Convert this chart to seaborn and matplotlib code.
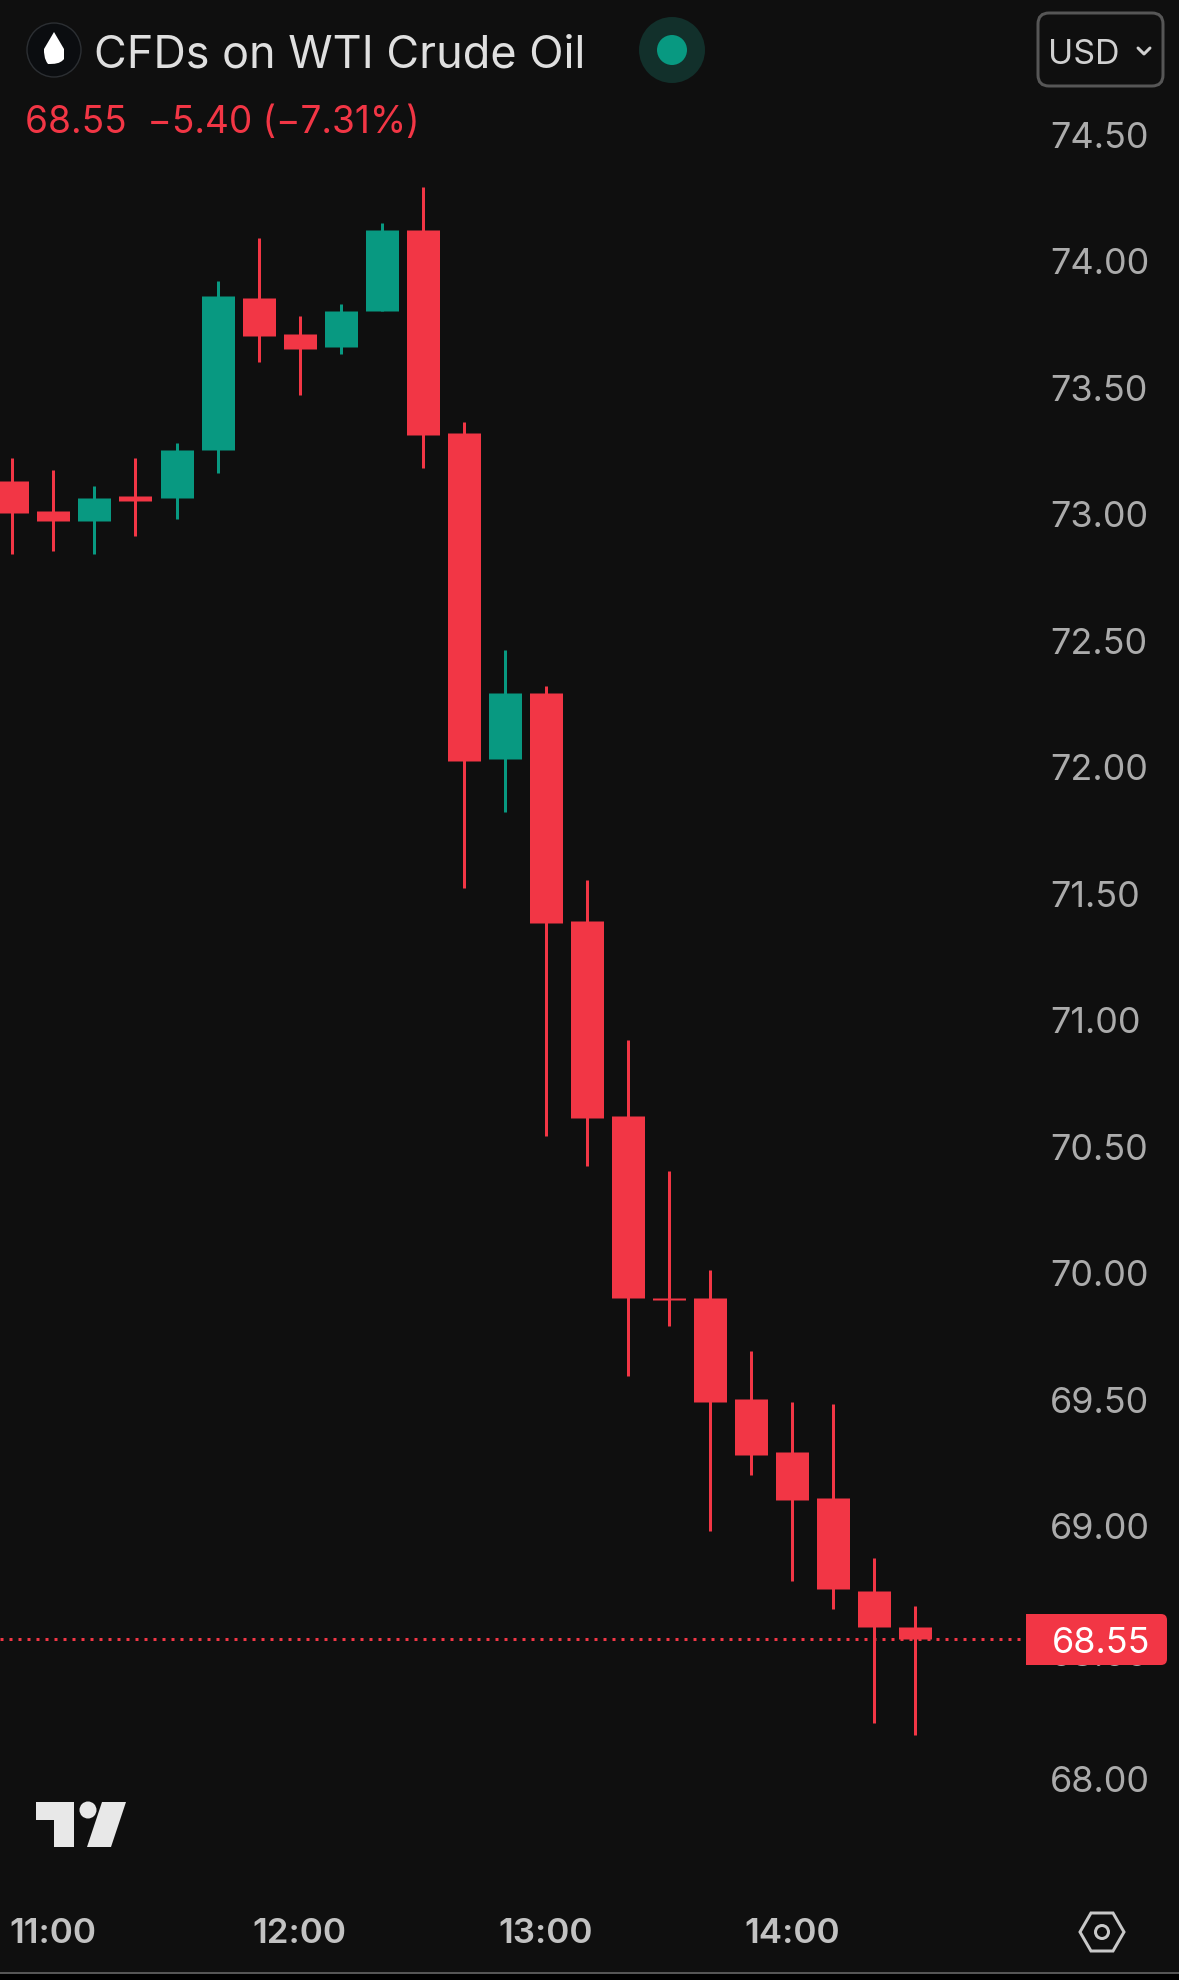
import matplotlib
matplotlib.use("Agg")
import matplotlib.pyplot as plt
from matplotlib.patches import Circle, Ellipse, FancyBboxPatch, Polygon, Rectangle, PathPatch, RegularPolygon
from matplotlib.path import Path
import pandas as pd
import seaborn as sns

# ---- data ----
times = ["10:50", "11:00", "11:10", "11:20", "11:30", "11:40", "11:50", "12:00", "12:10", "12:20", "12:30", "12:40",
         "12:50", "13:00", "13:10", "13:20", "13:30", "13:40", "13:50", "14:00", "14:10", "14:20", "14:30"]
opens = [73.13, 73.01, 72.97, 73.07, 73.06, 73.25, 73.85, 73.71, 73.66, 73.80, 74.12, 73.32,
         72.03, 72.29, 71.39, 70.62, 69.90, 69.90, 69.50, 69.29, 69.11, 68.74, 68.60]
closes = [73.00, 72.97, 73.06, 73.05, 73.25, 73.86, 73.70, 73.65, 73.80, 74.12, 73.31, 72.02,
          72.29, 71.38, 70.61, 69.90, 69.89, 69.49, 69.28, 69.10, 68.75, 68.60, 68.55]
highs = [73.22, 73.17, 73.11, 73.22, 73.28, 73.92, 74.09, 73.78, 73.83, 74.15, 74.29, 73.36,
         72.46, 72.32, 71.55, 70.92, 70.40, 70.01, 69.69, 69.49, 69.48, 68.87, 68.68]
lows = [72.84, 72.85, 72.84, 72.91, 72.98, 73.16, 73.60, 73.47, 73.63, 73.80, 73.18, 71.52,
        71.82, 70.54, 70.42, 69.59, 69.79, 68.98, 69.20, 68.78, 68.67, 68.22, 68.17]
price_ticks = [68.0, 68.5, 69.0, 69.5, 70.0, 70.5, 71.0, 71.5, 72.0, 72.5, 73.0, 73.5, 74.0, 74.5]
hour_ticks = ["11:00", "12:00", "13:00", "14:00"]
last_price = 68.55
title = "CFDs on WTI Crude Oil"
quote = "68.55  \u22125.40 (\u22127.31%)"
currency = "USD"

# ---- style ----
BG, RED, GREEN, GRAY = "#0f0f0f", "#f23645", "#089981", "#ababab"
W, H, DPI = 1179, 1981, 100
PX = 72 / DPI
sns.set_theme(style="dark", rc={"axes.facecolor": BG, "figure.facecolor": BG, "axes.grid": False})
plt.rcParams["font.family"] = ["Inter", "DejaVu Sans"]

rows = []
for i, t in enumerate(times):
    direction = "up" if closes[i] >= opens[i] else "down"
    rows.append(dict(i=i, time=t, dir=direction, low=lows[i], high=highs[i], o=opens[i], c=closes[i]))
df = pd.DataFrame(rows)
wicks = df.melt(id_vars=["i", "dir"], value_vars=["low", "high"], value_name="price")
bodies = df.melt(id_vars=["i", "dir"], value_vars=["o", "c"], value_name="price")
palette = {"up": GREEN, "down": RED}

fig = plt.figure(figsize=(W / DPI, H / DPI), dpi=DPI, facecolor=BG)
PANE_R, PANE_B = 1026, 1880
ax = fig.add_axes([0, 1 - PANE_B / H, PANE_R / W, PANE_B / H])
ax.set_facecolor(BG)
for s in ax.spines.values():
    s.set_visible(False)

X0, DX, Y745, PY = 12.3, 41.05, 135, 253
ax.set_xlim((0 - X0) / DX, (PANE_R - X0) / DX)
ax.set_ylim(74.5 - (PANE_B - Y745) / PY, 74.5 + Y745 / PY)

ax.axhline(last_price, color=RED, lw=3 * PX, ls=(0, (1, 2)), zorder=1)
sns.lineplot(data=wicks, x="i", y="price", hue="dir", units="i", estimator=None, palette=palette,
             linewidth=3 * PX, solid_capstyle="butt", legend=False, ax=ax, zorder=2)
sns.lineplot(data=bodies, x="i", y="price", hue="dir", units="i", estimator=None, palette=palette,
             linewidth=33 * PX, solid_capstyle="butt", legend=False, ax=ax, zorder=3)

ax.set_xlabel("")
ax.set_ylabel("")
ax.yaxis.tick_right()
ax.set_yticks(price_ticks, [f"{p:.2f}" for p in price_ticks])
ax.set_xticks([times.index(t) for t in hour_ticks], hour_ticks)
ax.tick_params(axis="y", length=0, pad=24 * PX, labelsize=36 * PX, labelcolor=GRAY)
ax.tick_params(axis="x", length=0, pad=38 * PX, labelsize=35 * PX, labelcolor="#c2c2c2")
for lab in ax.get_xticklabels():
    lab.set_fontweight("semibold")

# ---- pixel-space overlay for the app chrome ----
ov = fig.add_axes([0, 0, 1, 1], facecolor="none", zorder=5)
ov.set_xlim(0, W)
ov.set_ylim(H, 0)
ov.axis("off")

# header
ov.add_patch(Circle((54, 51), 27, fc="#0b0d10", ec="#2c2f33", lw=1))
drop = Path([(54, 33), (44, 50), (44, 54), (44, 60), (48, 65), (54, 65), (60, 65), (64, 60), (64, 54), (64, 50), (54, 33)],
            [Path.MOVETO, Path.LINETO, Path.CURVE4, Path.CURVE4, Path.CURVE4, Path.CURVE4, Path.CURVE4, Path.CURVE4,
             Path.LINETO, Path.LINETO, Path.CLOSEPOLY])
ov.add_patch(PathPatch(drop, fc="white", ec="none"))
ov.text(94, 51, title, color="#dfdfdf", fontsize=45 * PX, va="center_baseline", ha="left")
ov.add_patch(Circle((672, 51), 33, fc="#12302b", ec="none"))
ov.add_patch(Circle((672, 51), 15, fc=GREEN, ec="none"))
ov.text(25, 119, quote, color=RED, fontsize=37 * PX, va="center_baseline", ha="left")

ov.add_patch(FancyBboxPatch((1038, 14), 125, 73, boxstyle="round,pad=0,rounding_size=11",
                            fc=BG, ec="#565656", lw=3 * PX))
ov.text(1084, 51, currency, color="#d0d0d0", fontsize=34 * PX, va="center_baseline", ha="center")
ov.plot([1138, 1144, 1150], [49, 55, 49], color="#d0d0d0", lw=3 * PX)

# last price tag
ov.add_patch(FancyBboxPatch((1026, 1615), 141, 51, boxstyle="round,pad=0,rounding_size=6", fc=RED, ec="none"))
ov.add_patch(Rectangle((1026, 1615), 10, 51, fc=RED, ec="none"))
ov.text(1150, 1640, f"{last_price:.2f}", color="white", fontsize=36 * PX, va="center_baseline", ha="right")

# TradingView logo
LOGO = "#e8e8e8"
ov.add_patch(Polygon([(36, 1803), (74, 1803), (74, 1848), (54, 1848), (54, 1821), (36, 1821)], fc=LOGO, ec="none"))
ov.add_patch(Ellipse((88, 1811), 17, 17, fc=LOGO, ec="none"))
ov.add_patch(Polygon([(102, 1803), (126, 1803), (111, 1848), (87, 1848)], fc=LOGO, ec="none"))

# settings hexagon
ov.add_patch(Polygon([(1080, 1933), (1091, 1914), (1113, 1914), (1124, 1933), (1113, 1952), (1091, 1952)],
                     fc="none", ec="#c8c8c8", lw=3 * PX))
ov.add_patch(Circle((1102, 1933), 6.5, fc="none", ec="#c8c8c8", lw=3 * PX))

# bottom strip
ov.add_patch(Rectangle((0, 1974), W, 7, fc="#000000", ec="none"))
ov.plot([0, W], [1974, 1974], color="#555555", lw=2 * PX)

fig.savefig("out.png", dpi=DPI, facecolor=BG)
